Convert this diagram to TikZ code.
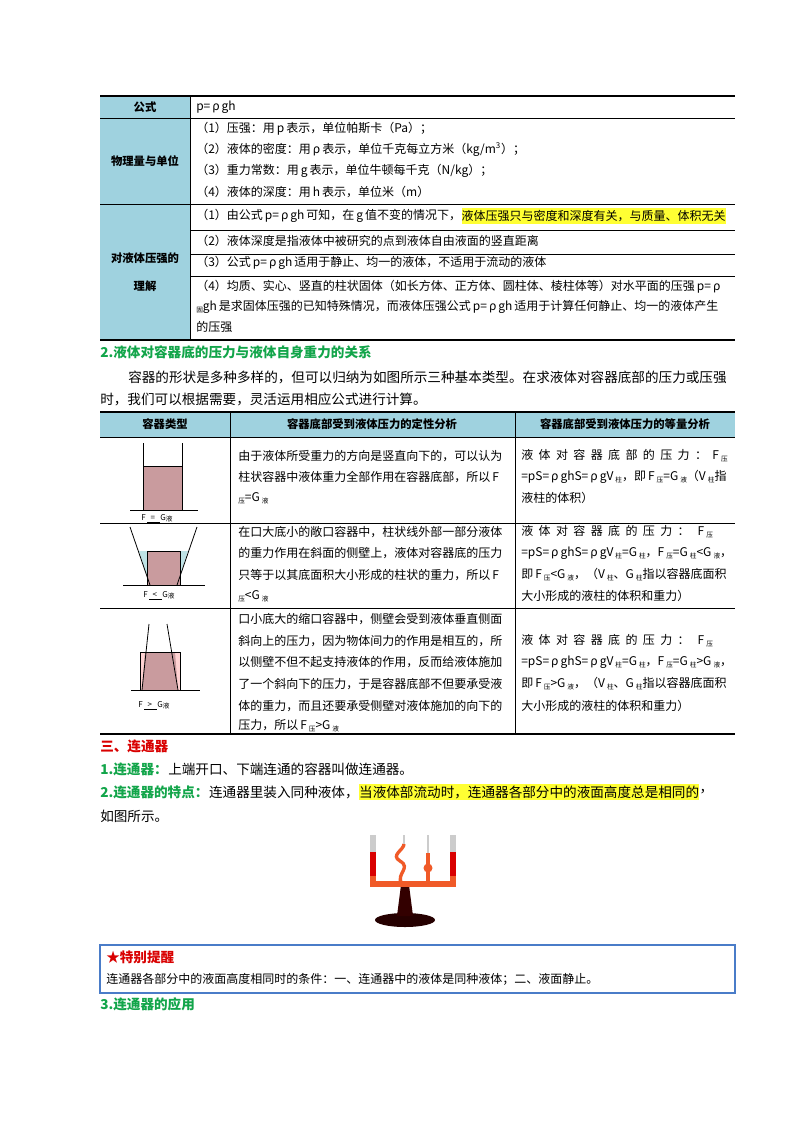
\documentclass[tikz,border=0pt]{standalone}
\usepackage{fontspec}
\setmainfont{Noto Sans CJK SC}
\begin{document}
\begin{tikzpicture}[x=0.75pt,y=-0.75pt,
  t/.style={anchor=west,inner sep=0pt,font=\fontsize{9}{10}\selectfont},
  tb/.style={inner sep=0pt,font=\fontsize{8.5}{9}\selectfont\bfseries},
  body/.style={anchor=west,inner sep=0pt,font=\fontsize{10.2}{12}\selectfont},
  grn/.style={anchor=west,inner sep=0pt,font=\fontsize{10.2}{12}\selectfont\bfseries,text=headgreen},
  lab/.style={anchor=west,inner sep=0pt,font=\fontsize{6}{6}\selectfont},
  rule/.style={line width=0.5pt},
  thick rule/.style={line width=1.3pt}]
\definecolor{hblue}{HTML}{9FD2DF}
\definecolor{headgreen}{HTML}{12A54A}
\definecolor{liq}{HTML}{C99B9E}
\definecolor{lblue}{HTML}{BFE3E6}
\definecolor{hl}{HTML}{FFFF33}
\definecolor{boxblue}{HTML}{4A7CC8}
\newcommand{\xs}[1]{\raisebox{-0.3ex}{\fontsize{5}{5}\selectfont #1}}
\fill[white] (0,0) rectangle (800,1132);
\useasboundingbox (0,0) rectangle (800,1132);
% ---------- table 1
\fill[hblue] (100,96) rectangle (190,340);
\draw[thick rule] (100,96) -- (735,96);
\draw[rule] (100,118) -- (735,118);
\draw[rule] (100,204) -- (735,204);
\draw[rule] (190,230) -- (735,230);
\draw[rule] (190,254) -- (735,254);
\draw[rule] (190,276) -- (735,276);
\draw[thick rule] (100,340) -- (735,340);
\draw[rule] (190,96) -- (190,340);
\node[tb] (h1) at (145,107) {公式};
\node[tb] (h2) at (145,161) {物理量与单位};
\node[tb,align=center,font=\fontsize{8.5}{21}\selectfont\bfseries] (h3) at (145,272) {对液体压强的\\理解};
\node[t] (a0) at (196,107) {p=\,ρ\,gh};
\node[t] (a1) at (196,129) {（1）压强：用\,p\,表示，单位帕斯卡（Pa）；};
\node[t] (a2) at (196,150) {（2）液体的密度：用\,ρ\,表示，单位千克每立方米（kg/m\textsuperscript{3}）；};
\node[t] (a3) at (196,171) {（3）重力常数：用\,g\,表示，单位牛顿每千克（N/kg）；};
\node[t] (a4) at (196,192) {（4）液体的深度：用\,h\,表示，单位米（m）};
\node[t] (b1) at (196,216) {（1）由公式\,p=\,ρ\,gh\,可知，在\,g\,值不变的情况下，};
\node[t,anchor=west,fill=hl,inner ysep=1.5pt] (b1h) at (b1.east) {液体压强只与密度和深度有关，与质量、体积无关};
\node[t] (b2) at (196,241) {（2）液体深度是指液体中被研究的点到液体自由液面的竖直距离};
\node[t] (b3) at (196,263) {（3）公式\,p=\,ρ\,gh\,适用于静止、均一的液体，不适用于流动的液体};
\node[t] (b4) at (196,287) {（4）均质、实心、竖直的柱状固体（如长方体、正方体、圆柱体、棱柱体等）对水平面的压强\,p=\,ρ};
\node[t] (b5) at (196,307) {\xs{固}gh\,是求固体压强的已知特殊情况，而液体压强公式\,p=\,ρ\,gh\,适用于计算任何静止、均一的液体产生};
\node[t] (b6) at (196,327) {的压强};
% ---------- heading 2
\node[grn] (s2) at (100,352) {2.液体对容器底的压力与液体自身重力的关系};
\node[body] (p1) at (128,377) {容器的形状是多种多样的，但可以归纳为如图所示三种基本类型。在求液体对容器底部的压力或压强};
\node[body] (p2) at (100,399) {时，我们可以根据需要，灵活运用相应公式进行计算。};
% ---------- table 2
\fill[hblue] (100,412) rectangle (735,437);
\draw[thick rule] (100,412) -- (735,412);
\draw[rule] (100,437) -- (735,437);
\draw[rule] (100,523) -- (735,523);
\draw[rule] (100,608) -- (735,608);
\draw[thick rule] (100,734) -- (735,734);
\draw[rule] (230,412) -- (230,734);
\draw[rule] (515,412) -- (515,734);
\node[tb] (c1) at (165,424) {容器类型};
\node[tb] (c2) at (372,424) {容器底部受到液体压力的定性分析};
\node[tb] (c3) at (625,424) {容器底部受到液体压力的等量分析};
% row1 text
\node[t] (r11) at (238,456) {由于液体所受重力的方向是竖直向下的，可以认为};
\node[t] (r12) at (238,477) {柱状容器中液体重力全部作用在容器底部，所以\,F};
\node[t] (r13) at (238,498) {\xs{压}=G\,\xs{液}};
\node[t] (r14) at (521,456) {液\ \ 体\ \ 对\ \ 容\ \ 器\ \ 底\ \ 部\ \ 的\ \ 压\ \ 力\ \ ：\ \ F\,\xs{压}};
\node[t] (r15) at (521,477) {=pS=\,ρ\,ghS=\,ρ\,gV\,\xs{柱}，即\,F\,\xs{压}=G\,\xs{液}（V\,\xs{柱}指};
\node[t] (r16) at (521,498) {液柱的体积）};
% row2 text
\node[t] (r21) at (238,532) {在口大底小的敞口容器中，柱状线外部一部分液体};
\node[t] (r22) at (238,553) {的重力作用在斜面的侧壁上，液体对容器底的压力};
\node[t] (r23) at (238,575) {只等于以其底面积大小形成的柱状的重力，所以\,F};
\node[t] (r24) at (238,596) {\xs{压}<G\,\xs{液}};
\node[t] (r25) at (521,532) {液\ \ 体\ \ 对\ \ 容\ \ 器\ \ 底\ \ 的\ \ 压\ \ 力\ \ ：\ \ \ F\,\xs{压}};
\node[t] (r26) at (521,553) {=pS=\,ρ\,ghS=\,ρ\,gV\,\xs{柱}=G\,\xs{柱}，F\,\xs{压}=G\,\xs{柱}<G\,\xs{液}，};
\node[t] (r27) at (521,575) {即\,F\,\xs{压}<G\,\xs{液}，（V\,\xs{柱}、G\,\xs{柱}指以容器底面积};
\node[t] (r28) at (521,596) {大小形成的液柱的体积和重力）};
% row3 text
\node[t] (r31) at (238,619) {口小底大的缩口容器中，侧壁会受到液体垂直侧面};
\node[t] (r32) at (238,641) {斜向上的压力，因为物体间力的作用是相互的，所};
\node[t] (r33) at (238,662) {以侧壁不但不起支持液体的作用，反而给液体施加};
\node[t] (r34) at (238,684) {了一个斜向下的压力，于是容器底部不但要承受液};
\node[t] (r35) at (238,706) {体的重力，而且还要承受侧壁对液体施加的向下的};
\node[t] (r36) at (238,726) {压力，所以\,F\,\xs{压}>G\,\xs{液}};
\node[t] (r37) at (521,641) {液\ \ 体\ \ 对\ \ 容\ \ 器\ \ 底\ \ 的\ \ 压\ \ 力\ \ ：\ \ \ F\,\xs{压}};
\node[t] (r38) at (521,662) {=pS=\,ρ\,ghS=\,ρ\,gV\,\xs{柱}=G\,\xs{柱}，F\,\xs{压}=G\,\xs{柱}>G\,\xs{液}，};
\node[t] (r39) at (521,684) {即\,F\,\xs{压}>G\,\xs{液}，（V\,\xs{柱}、G\,\xs{柱}指以容器底面积};
\node[t] (r3a) at (521,706) {大小形成的液柱的体积和重力）};
% container 1
\fill[liq] (143,466) rectangle (182,510);
\draw[line width=0.6pt] (143,443) -- (143,510) (182,443) -- (182,510);
\draw[line width=0.6pt] (143,466) -- (182,466);
\draw[line width=0.6pt] (130,510) -- (198,510);
\node[lab] (k1) at (141,519) {F\,\underline{\ \ =\ \ \ }G\xs{液}};
% container 2
\fill[lblue] (139,551) -- (147,551) -- (147,585) -- (150,585) -- cycle;
\fill[lblue] (188,551) -- (180,551) -- (180,585) -- (177,585) -- cycle;
\fill[liq] (147,551) rectangle (180,585);
\draw[line width=0.5pt] (147,551) rectangle (180,585);
\draw[line width=0.6pt] (130,527) -- (150,585) (197,527) -- (177,585);
\draw[line width=0.6pt] (123,585) -- (205,585);
\node[lab] (k2) at (143,596) {F\,\underline{\ \ <\ \ \ }G\xs{液}};
% container 3
\fill[pink!70] (140,652) rectangle (180,690);
\fill[liq] (145,652) -- (175,652) -- (178,690) -- (142,690) -- cycle;
\draw[line width=0.5pt] (140,652) rectangle (180,690);
\draw[line width=0.6pt] (149,624) -- (142,690) (167,624) -- (178,690);
\draw[line width=0.6pt] (131,690) -- (200,690);
\node[lab] (k3) at (138,706) {F\,\underline{\ \ >\ \ \ }G\xs{液}};
% ---------- section 3
\node[anchor=west,inner sep=0pt,font=\fontsize{10.2}{12}\selectfont\bfseries,text=red!85!black] (s3) at (100,746) {三、连通器};
\node[grn] (q1) at (100,769) {1.连通器：};
\node[body,anchor=west] (q1b) at (q1.east) {上端开口、下端连通的容器叫做连通器。};
\node[grn] (q2) at (100,792) {2.连通器的特点：};
\node[body,anchor=west] (q2b) at (q2.east) {连通器里装入同种液体，};
\node[body,anchor=west,fill=hl,inner ysep=1pt] (q2c) at (q2b.east) {当液体部流动时，连通器各部分中的液面高度总是相同的};
\node[body,anchor=west] (q2d) at (q2c.east) {，};
\node[body] (q3) at (100,816) {如图所示。};
% vessel picture
\definecolor{ored}{HTML}{F05A28}
\fill[black!85!red] (405,920) ellipse (30 and 7);
\fill[black!80!red] (401,885) -- (409,885) -- (413,916) -- (397,916) -- cycle;
\draw[ored,line width=5pt,line cap=round] (373,858) -- (373,884) -- (453,884) -- (453,858);
\draw[ored,line width=2.5pt] (402,884) .. controls (395,874) and (412,868) .. (400,861) .. controls (390,855) and (404,850) .. (404,844);
\fill[ored] (428,868) circle (4.5);
\draw[ored,line width=2.5pt] (428,884) -- (428,853);
\draw[black!20,line width=5pt] (373,835) -- (373,852);
\draw[black!20,line width=5pt] (453,835) -- (453,852);
\draw[black!20,line width=2pt] (404,835) -- (404,844) (428,835) -- (428,853);
\fill[red!85!black] (370,852) rectangle (376,876);
\fill[red!85!black] (450,852) rectangle (456,876);
% reminder box
\draw[boxblue,line width=0.8pt] (100,945) rectangle (735,993);
\node[anchor=west,inner sep=0pt,font=\fontsize{10.2}{12}\selectfont\bfseries,text=red!85!black] (r0) at (106,957) {★特别提醒};
\node[t] (r0b) at (106,979) {连通器各部分中的液面高度相同时的条件：一、连通器中的液体是同种液体；二、液面静止。};
\node[grn] (s33) at (100,1004) {3.连通器的应用};
\end{tikzpicture}
\end{document}
